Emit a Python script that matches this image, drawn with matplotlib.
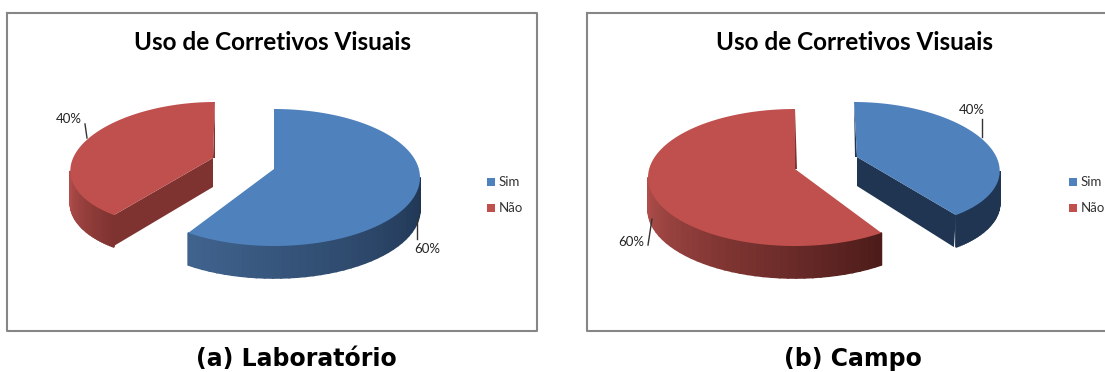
import numpy as np
import matplotlib.pyplot as plt
from matplotlib.colors import LinearSegmentedColormap

categories = ["Sim", "Não"]
lab_shares = [60, 40]
field_shares = [40, 60]
panel_captions = ["(a) Laboratório", "(b) Campo"]
chart_title = "Uso de Corretivos Visuais"

BLUE = "#4f81bd"
RED = "#c0504d"
BOX_EDGE = "#868686"
DEPTH = 32

fig = plt.figure(figsize=(11.05, 3.72), dpi=100)
ax = fig.add_axes([0, 0, 1, 1])
ax.set_xlim(0, 1105)
ax.set_ylim(372, 0)
ax.axis("off")


def draw_slice(start, share, geo, color, dark, side_light, side_dark, sliver):
    # one pie slice seen from above, angles clockwise from 12 o'clock
    end = start + share / 100 * 360
    cx, cy, a, b, shear = geo["ell"]
    apex_x, apex_y = geo["apex"]

    def rim(t):
        rad = np.radians(t)
        y = cy - b * np.cos(rad)
        return cx + a * np.sin(rad) + shear * (y - cy), y

    # curved side, only the part facing the viewer (sheared rims turn earlier)
    turn = np.degrees(np.arctan(abs(shear) * b / a))
    lo = max(start, 90 + turn if shear > 0 else 90)
    hi = min(end, 270 - turn if shear < 0 else 270)
    if hi > lo:
        cmap = LinearSegmentedColormap.from_list("side", [side_light, side_dark])
        steps = np.linspace(lo, hi, 40)
        for t0, t1 in zip(steps[:-1], steps[1:]):
            x0, y0 = rim(t0)
            x1, y1 = rim(t1)
            c = cmap((hi - t0) / (hi - lo))
            ax.fill([x0, x1, x1, x0], [y0, y1, y1 + DEPTH, y0 + DEPTH],
                    color=c, lw=1.2, zorder=2)

    # straight cut that shows on the exploded slice
    if geo["cut"] is not None:
        x0, y0 = rim(geo["cut"])
        ax.fill([apex_x, x0, x0 - 2, apex_x],
                [apex_y, y0, y0 + DEPTH, apex_y + 29],
                color=dark, lw=0, zorder=2)

    # thin dark edge along the 12 o'clock cut
    top_x, top_y = rim(end if end >= 360 else start)
    ax.fill([top_x, apex_x + sliver, apex_x],
            [top_y, apex_y, apex_y], color=dark, lw=0, zorder=2)

    ts = np.linspace(start, end, 120)
    xs, ys = rim(ts)
    ax.fill(np.r_[apex_x, xs], np.r_[apex_y, ys], color=color, lw=0, zorder=3)


panels = [
    {
        "shares": lab_shares, "box": (7, 13, 537, 331), "title_x": 272,
        "caption_x": 296, "legend_x": 487,
        "slices": [
            dict(geo={"ell": (274, 177.5, 146, 68.5, 0), "apex": (274, 169), "cut": None},
                 color=BLUE, dark="#1f3552", light="#41648f", deep="#1f3552", sliver=3),
            dict(geo={"ell": (201.6, 164.5, 130.6, 62.5, -0.214), "apex": (213, 158), "cut": 216},
                 color=RED, dark="#7f3331", light="#b24e4b", deep="#7f3331", sliver=2),
        ],
        "notes": [("60%", 427, 249, (417, 219), (417, 239)),
                  ("40%", 69, 119, (85, 124), (87, 138))],
    },
    {
        "shares": field_shares, "box": (587, 13, 1108, 331), "title_x": 854,
        "caption_x": 853, "legend_x": 1069,
        "slices": [
            dict(geo={"ell": (867.7, 164.5, 131.3, 62.5, 0.219), "apex": (857, 157), "cut": 144},
                 color=BLUE, dark="#1f3552", light="#1f3552", deep="#1f3552", sliver=-2),
            dict(geo={"ell": (795, 177.5, 147, 68.5, 0), "apex": (795, 169), "cut": None},
                 color=RED, dark="#7f3331", light="#b24f4c", deep="#4d1c1a", sliver=2),
        ],
        "notes": [("40%", 972, 110, (982, 119), (982, 137)),
                  ("60%", 631, 242, (648, 245), (652, 219))],
    },
]

for panel, caption in zip(panels, panel_captions):
    x0, y0, x1, y1 = panel["box"]
    ax.plot([x0, x1, x1, x0, x0], [y0, y0, y1, y1, y0], color=BOX_EDGE, lw=1.5, zorder=1)

    ax.text(panel["title_x"], 42, chart_title, family="Lato", fontweight="bold",
            fontsize=17.5, ha="center", va="center", color="black")
    ax.text(panel["caption_x"], 359, caption, family="DejaVu Sans", fontweight="bold",
            fontsize=17, ha="center", va="center", color="black")

    start = 0
    for share, s in zip(panel["shares"], panel["slices"]):
        draw_slice(start, share, s["geo"], s["color"], s["dark"], s["light"], s["deep"], s["sliver"])
        start += share / 100 * 360

    for label, tx, ty, p0, p1 in panel["notes"]:
        ax.plot([p0[0], p1[0]], [p0[1], p1[1]], color="#333333", lw=1, zorder=4)
        ax.text(tx, ty, label, family="Lato", fontsize=9.5, ha="center", va="center", color="#222222")

    lx = panel["legend_x"]
    for name, c, ly in zip(categories, [BLUE, RED], [182, 208]):
        ax.fill([lx, lx + 8, lx + 8, lx], [ly - 4, ly - 4, ly + 4, ly + 4], color=c, lw=0)
        ax.text(lx + 12, ly, name, family="Lato", fontsize=9.5, ha="left", va="center", color="#333333")

fig.savefig("out.png", dpi=100)
